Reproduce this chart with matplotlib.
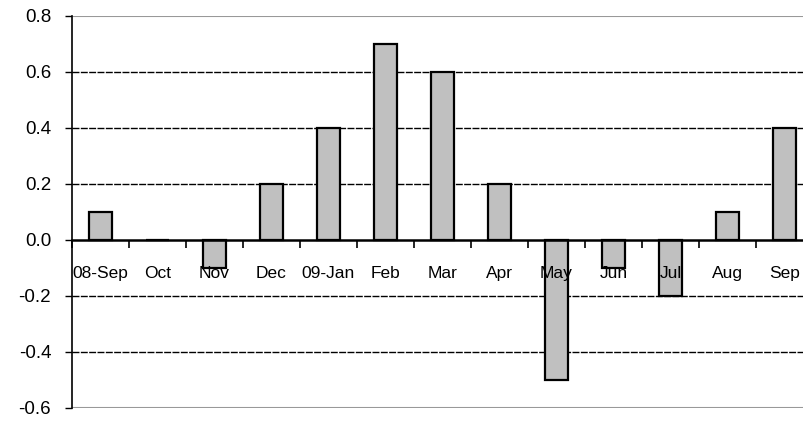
import numpy as np
import matplotlib.pyplot as plt

# Monthly values
months = ['08-Sep', 'Oct', 'Nov', 'Dec', '09-Jan', 'Feb', 'Mar',
          'Apr', 'May', 'Jun', 'Jul', 'Aug', 'Sep']
values = [0.1, 0.0, -0.1, 0.2, 0.4, 0.7, 0.6, 0.2, -0.5, -0.1, -0.2, 0.1, 0.4]
yticks = [-0.6, -0.4, -0.2, 0.0, 0.2, 0.4, 0.6, 0.8]

plt.rcParams['font.family'] = ['Liberation Sans', 'DejaVu Sans']

fig = plt.figure(figsize=(8.04, 4.22), dpi=100)
# plot area runs past the right edge of the picture, like the original
ax = fig.add_axes([72 / 804, 14 / 422, 741 / 804, 392 / 422])

x = np.arange(len(months))
ax.bar(x, values, width=0.40, color='#C0C0C0', edgecolor='black',
       linewidth=1.6, zorder=3)

ax.set_xlim(-0.5, len(months) - 0.5)
ax.set_ylim(-0.6, 0.8)

# gridlines
for v in yticks:
    if v in (-0.6, 0.8):
        ax.axhline(v, color='#999999', lw=1.5, zorder=2)
    elif v != 0.0:
        ax.axhline(v, color='black', lw=1.0, ls=(0, (5, 1)), zorder=2)

for s in ['top', 'right']:
    ax.spines[s].set_visible(False)
ax.spines['left'].set_color('black')
ax.spines['left'].set_linewidth(1.2)
ax.spines['bottom'].set_position(('data', 0))
ax.spines['bottom'].set_color('black')
ax.spines['bottom'].set_linewidth(1.8)
ax.spines['bottom'].set_zorder(4)

ax.set_yticks(yticks)
ax.set_yticklabels([f'{v:.1f}' for v in yticks])
ax.tick_params(axis='y', direction='out', length=5, width=1, pad=10,
               labelsize=13.5)

ax.set_xticks(x)
ax.set_xticklabels(months)
ax.set_xticks(np.arange(len(months) + 1) - 0.5, minor=True)
ax.tick_params(axis='x', which='major', length=0, pad=18.5, labelsize=12.5)
ax.tick_params(axis='x', which='minor', direction='out', length=6, width=1.2)
# month labels sit over the bars
ax.xaxis.set_zorder(5)

fig.savefig('out.png', dpi=100)
